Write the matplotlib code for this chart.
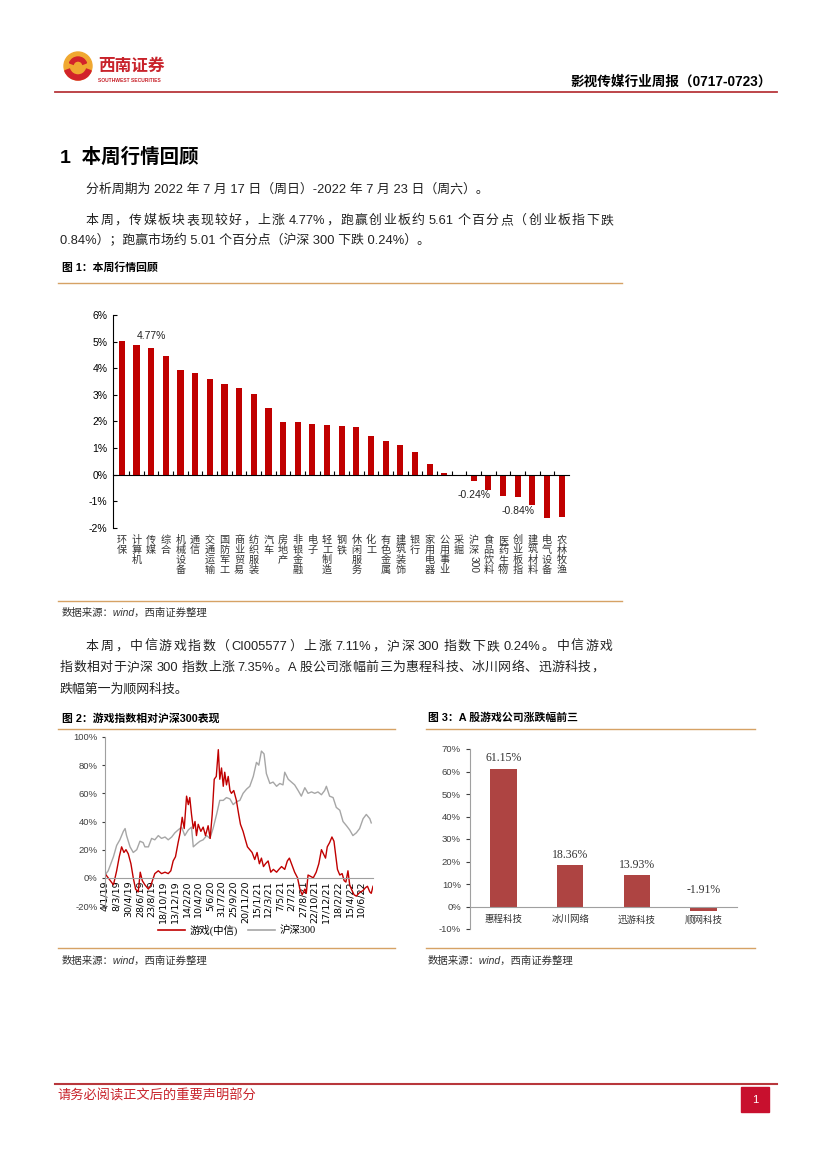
import re
import numpy as np
import matplotlib.pyplot as plt
from matplotlib.lines import Line2D
from matplotlib.patches import Rectangle, Circle, Wedge
from matplotlib.ticker import FuncFormatter

W, H = 827, 1170
CJK = 'Noto Sans CJK SC'
MIX = ['Liberation Sans', CJK]
SERIF = ['Liberation Serif', CJK]

# 图1 本周行情回顾
sectors = ['环保', '计算机', '传媒', '综合', '机械设备', '通信', '交通运输', '国防军工',
           '商业贸易', '纺织服装', '汽车', '房地产', '非银金融', '电子', '轻工制造', '钢铁',
           '休闲服务', '化工', '有色金属', '建筑装饰', '银行', '家用电器', '公用事业', '采掘',
           '沪深300', '食品饮料', '医药生物', '创业板指', '建筑材料', '电气设备', '农林牧渔']
weekly_chg = [5.03, 4.87, 4.77, 4.45, 3.94, 3.82, 3.59, 3.39, 3.24, 3.04, 2.50, 1.99,
              1.98, 1.91, 1.87, 1.82, 1.79, 1.45, 1.25, 1.12, 0.85, 0.42, 0.07, -0.02,
              -0.24, -0.56, -0.79, -0.84, -1.12, -1.61, -1.60]
labeled = {'传媒': '4.77%', '沪深300': '-0.24%', '创业板指': '-0.84%'}

# 图2 游戏指数相对沪深300 (x = 交易日序号)
tick_dates = ['4/1/19', '8/3/19', '30/4/19', '28/6/19', '23/8/19', '18/10/19', '13/12/19',
              '14/2/20', '10/4/20', '5/6/20', '31/7/20', '25/9/20', '20/11/20', '15/1/21',
              '12/3/21', '7/5/21', '2/7/21', '27/8/21', '22/10/21', '17/12/21', '18/2/22',
              '15/4/22', '10/6/22']
game_pts = [(0, 3), (11, 0), (29, -5), (40, 5), (49, 15), (57, 22), (65, 18), (72, 20),
            (80, 17), (89, 10), (97, 0), (105, -8), (114, -10), (121, 4), (128, -2),
            (137, -5), (149, -8), (158, -5), (166, 0), (171, 3), (183, 5), (194, 3),
            (206, 4), (217, 3), (226, 5), (234, 12), (242, 15), (251, 25), (258, 32),
            (265, 43), (272, 35), (280, 58), (286, 52), (291, 57), (297, 45), (303, 35),
            (309, 40), (314, 30), (320, 38), (329, 33), (337, 36), (345, 30), (354, 37),
            (361, 28), (368, 45), (375, 70), (382, 72), (389, 91), (394, 70), (400, 78),
            (406, 65), (411, 75), (417, 66), (423, 72), (429, 62), (434, 60), (442, 62),
            (451, 55), (459, 45), (465, 38), (474, 33), (482, 27), (489, 22), (497, 20),
            (505, 18), (514, 13), (522, 18), (530, 10), (537, 14), (544, 8), (551, 10),
            (560, 12), (569, 4), (578, 6), (589, 4), (597, 6), (606, 8), (617, 6),
            (626, 12), (633, 14), (642, 9), (651, 4), (661, 0), (669, -8), (677, -12),
            (686, -8), (691, -11), (697, 2), (706, 1), (715, 0), (725, 4), (734, 10),
            (743, 20), (750, 17), (757, 14), (763, 22), (771, 25), (779, 29), (786, 26),
            (792, 16), (798, 6), (806, 2), (814, 3), (821, -2), (827, -3), (834, 5),
            (840, -5), (848, -9), (855, -12), (863, -13), (871, -11), (878, -10),
            (886, -9), (894, -7), (901, -6), (909, -10), (914, -11), (920, -6)]
hs300_pts = [(0, 2), (11, 5), (29, 15), (40, 23), (51, 27), (63, 33), (69, 35), (74, 30),
             (86, 22), (97, 18), (109, 20), (120, 26), (131, 25), (137, 22), (149, 22),
             (160, 28), (171, 27), (183, 30), (194, 28), (206, 29), (217, 27), (229, 29),
             (240, 32), (251, 34), (263, 36), (274, 30), (286, 34), (297, 36), (303, 22),
             (314, 24), (326, 26), (337, 27), (349, 30), (360, 28), (371, 35), (383, 45),
             (394, 55), (406, 55), (417, 57), (429, 56), (440, 52), (451, 54), (463, 55),
             (474, 60), (486, 63), (497, 65), (509, 72), (520, 82), (528, 80), (537, 90),
             (546, 88), (554, 74), (566, 67), (577, 68), (589, 65), (600, 67), (611, 66),
             (617, 75), (629, 70), (640, 68), (651, 66), (663, 62), (674, 58), (686, 64),
             (697, 60), (709, 61), (720, 60), (731, 61), (743, 59), (754, 62), (760, 65),
             (771, 58), (783, 57), (794, 50), (806, 48), (817, 40), (829, 37), (840, 34),
             (851, 30), (863, 32), (874, 35), (886, 42), (897, 45), (909, 42), (914, 39)]

# 图3 A股游戏公司涨跌幅前三
companies = ['惠程科技', '冰川网络', '迅游科技', '顺网科技']
company_chg = [61.15, 18.36, 13.93, -1.91]

RED = '#C00000'
LINE_ORANGE = '#D6A265'
HEAD_RED = '#B8373C'

fig = plt.figure(figsize=(W / 100, H / 100), dpi=100)
renderer = fig.canvas.get_renderer()


def fx(x):
    return x / W


def fy(y):
    return 1 - y / H


def hline(x0, x1, y, color, lw=1.0):
    fig.add_artist(Line2D([fx(x0), fx(x1)], [fy(y), fy(y)], color=color, lw=lw))


def txt(x, y, s, **kw):
    kw.setdefault('family', MIX)
    kw.setdefault('va', 'center')
    return fig.text(fx(x), fy(y), s, **kw)


def justify(x0, x1, y, s, **kw):
    # spread tokens so the line fills x0..x1 like the justified paragraph
    def width(t):
        a = txt(0, 0, t + '|', **kw)
        w = a.get_window_extent(renderer).width
        a.remove()
        return w
    base = width('')
    toks = re.findall(r'[!-~]+|\s|[^\x00-\x7f]', s)
    pos, pre = [], ''
    for t in toks:
        pos.append(width(pre) - base)
        pre += t
    total = width(pre) - base
    # spaces keep their own width, the slack goes between the other tokens
    gaps = [0] + [0 if (toks[k].isspace() or toks[k - 1].isspace()) else 1
                  for k in range(1, len(toks))]
    extra = (x1 - x0 - total) / sum(gaps)
    shift = 0
    for t, p, g in zip(toks, pos, gaps):
        shift += g * extra
        if t.strip():
            txt(x0 + p + shift, y, t, **kw)


# header
logo = fig.add_axes([fx(62), fy(82), 32 / W, 32 / H])
logo.set_xlim(0, 32)
logo.set_ylim(0, 32)
logo.axis('off')
logo.add_patch(Circle((16, 16), 14, color='#F0A830'))
logo.add_patch(Wedge((16, 16), 14, 200, 340, width=5, color='#D2232A'))
logo.add_patch(Wedge((16, 16), 9, 20, 160, width=4, color='#D2232A'))
txt(98, 66, '西南证券', color='#C8232B', fontsize=12, weight='bold', family=CJK)
txt(98, 80, 'SOUTHWEST SECURITIES', color='#C8232B', fontsize=3.6, weight='bold')
txt(772, 82, '影视传媒行业周报（0717-0723）', fontsize=9.8, weight='bold', ha='right')
hline(55, 777, 92, HEAD_RED, 1.3)

# section text
txt(60, 157, '1  本周行情回顾', fontsize=14, weight='bold')
body = dict(fontsize=9.3, color='#222222')
txt(86, 189, '分析周期为 2022 年 7 月 17 日（周日）-2022 年 7 月 23 日（周六）。', **body)
justify(86, 613, 221, '本周，传媒板块表现较好，上涨 4.77%，跑赢创业板约 5.61 个百分点（创业板指下跌', **body)
txt(60, 241, '0.84%）；跑赢市场约 5.01 个百分点（沪深 300 下跌 0.24%）。', **body)

txt(62, 268, '图 1：本周行情回顾', fontsize=7.8, weight='bold')
hline(58, 622, 283, LINE_ORANGE)

# chart 1
ax1 = fig.add_axes([fx(113), fy(528), 456 / W, 213 / H])
xs = np.arange(len(sectors))
ax1.bar(xs, weekly_chg, width=0.42, color=RED)
ax1.set_xlim(-0.6, len(sectors) - 0.5)
ax1.set_ylim(-2, 6)
ax1.set_yticks(range(-2, 7))
ax1.yaxis.set_major_formatter(FuncFormatter(lambda v, p: f'{v:.0f}%'))
ax1.set_xticks(xs[:-1] + 0.5)
ax1.set_xticklabels([])
ax1.tick_params(axis='x', direction='in', length=3, width=0.8)
ax1.tick_params(axis='y', direction='in', length=3, width=0.8, labelsize=7.5, pad=4)
for lab in ax1.get_yticklabels():
    lab.set_family(MIX)
for s in ['top', 'right']:
    ax1.spines[s].set_visible(False)
ax1.spines['bottom'].set_position(('data', 0))
ax1.spines['left'].set_linewidth(0.8)
ax1.spines['bottom'].set_linewidth(0.8)


def ax1_y(ypx):
    return (528 - ypx) / 213


for i, name in enumerate(sectors):
    if name == '沪深300':
        ax1.text(i, ax1_y(535), '沪\n深', transform=ax1.get_xaxis_transform(), ha='center',
                 va='top', fontsize=7.3, linespacing=1.0, family=CJK, color='#333333')
        ax1.text(i, ax1_y(556), '300', transform=ax1.get_xaxis_transform(), ha='center',
                 va='top', fontsize=7.3, rotation=270, family=MIX, color='#333333')
    else:
        ax1.text(i, ax1_y(535), '\n'.join(name), transform=ax1.get_xaxis_transform(),
                 ha='center', va='top', fontsize=7.3, linespacing=1.0, family=CJK,
                 color='#333333')
    if name in labeled:
        v = weekly_chg[i]
        ty = v + 0.44 if v > 0 else v - 0.52
        ax1.text(i, ty, labeled[name], ha='center', va='center', fontsize=7.5,
                 family=MIX, color='#222222')

hline(58, 622, 601, LINE_ORANGE)
txt(62, 613, '数据来源：wind，西南证券整理', fontsize=7.5, style='italic', color='#333333')

# paragraph 2
justify(86, 613, 647, '本周，中信游戏指数（CI005577）上涨 7.11%，沪深 300 指数下跌 0.24%。中信游戏', **body)
justify(60, 604, 668, '指数相对于沪深 300 指数上涨 7.35%。A 股公司涨幅前三为惠程科技、冰川网络、迅游科技，', **body)
txt(60, 689, '跌幅第一为顺网科技。', **body)

# chart 2
txt(62, 718, '图 2：游戏指数相对沪深300表现', fontsize=7.8, weight='bold')
hline(58, 395, 729, LINE_ORANGE)
ax2 = fig.add_axes([fx(105), fy(906), 268 / W, 169 / H])
hd, hv = zip(*hs300_pts)
gd, gv = zip(*game_pts)
ax2.plot(hd, hv, color='#A6A6A6', lw=1.0)
ax2.plot(gd, gv, color=RED, lw=1.0)
ax2.set_xlim(0, 920)
ax2.set_ylim(-20, 100)
ax2.set_yticks(range(-20, 101, 20))
ax2.yaxis.set_major_formatter(FuncFormatter(lambda v, p: f'{v:.0f}%'))
ax2.set_xticks(np.arange(len(tick_dates)) * 40)
ax2.set_xticklabels(tick_dates)
ax2.tick_params(axis='x', length=0, labelsize=6.8, pad=2, labelrotation=90)
ax2.tick_params(axis='y', length=2, labelsize=6.8, colors='#404040')
for lab in ax2.get_xticklabels() + ax2.get_yticklabels():
    lab.set_family(MIX)
for s in ['top', 'right']:
    ax2.spines[s].set_visible(False)
ax2.spines['bottom'].set_position(('data', 0))
ax2.spines['bottom'].set_color('#A0A0A0')
ax2.spines['left'].set_color('#A0A0A0')
ax2.spines['bottom'].set_linewidth(0.8)
ax2.spines['left'].set_linewidth(0.8)
fig.legend(handles=[Line2D([], [], color=RED, lw=1.2), Line2D([], [], color='#A6A6A6', lw=1.2)],
           labels=['游戏(中信)', '沪深300'], loc='center', bbox_to_anchor=(fx(237), fy(930)),
           ncol=2, frameon=False, handlelength=2.6, handletextpad=0.4,
           columnspacing=1.0, prop={'family': SERIF, 'size': 7.5})
hline(58, 395, 948, LINE_ORANGE)
txt(62, 961, '数据来源：wind，西南证券整理', fontsize=7.5, style='italic', color='#333333')

# chart 3
txt(428, 718, '图 3：A 股游戏公司涨跌幅前三', fontsize=7.8, weight='bold')
hline(426, 755, 729, LINE_ORANGE)
ax3 = fig.add_axes([fx(470), fy(929), 267 / W, 180 / H])
cx = np.arange(len(companies))
ax3.bar(cx, company_chg, width=0.4, color='#AE4442')
ax3.set_xlim(-0.5, len(companies) - 0.5)
ax3.set_ylim(-10, 70)
ax3.set_yticks(range(-10, 71, 10))
ax3.yaxis.set_major_formatter(FuncFormatter(lambda v, p: f'{v:.0f}%'))
ax3.set_xticks([])
ax3.tick_params(axis='y', length=3, labelsize=6.8, colors='#404040', width=0.8)
for lab in ax3.get_yticklabels():
    lab.set_family(MIX)
for s in ['top', 'right']:
    ax3.spines[s].set_visible(False)
ax3.spines['bottom'].set_position(('data', 0))
ax3.spines['bottom'].set_color('#A0A0A0')
ax3.spines['left'].set_color('#A0A0A0')
for i, (name, v) in enumerate(zip(companies, company_chg)):
    ax3.text(i, -5.9, name, ha='center', va='center', fontsize=6.8, family=CJK, color='#333333')
    ty = v + 4.7 if v > 0 else 7.5
    ax3.text(i, ty, f'{v:.2f}%', ha='center', va='center', fontsize=8.5, family=SERIF,
             color='#333333')
hline(426, 755, 948, LINE_ORANGE)
txt(428, 961, '数据来源：wind，西南证券整理', fontsize=7.5, style='italic', color='#333333')

# footer
hline(55, 777, 1084, HEAD_RED, 1.5)
txt(57, 1096, '请务必阅读正文后的重要声明部分', fontsize=9.5, color='#C8232B', family=CJK)
fig.add_artist(Rectangle((fx(741), fy(1112)), 28 / W, 25 / H, color='#C8102E'))
txt(755, 1100, '1', fontsize=8, color='white', ha='center')

fig.savefig('out.png', dpi=100)
